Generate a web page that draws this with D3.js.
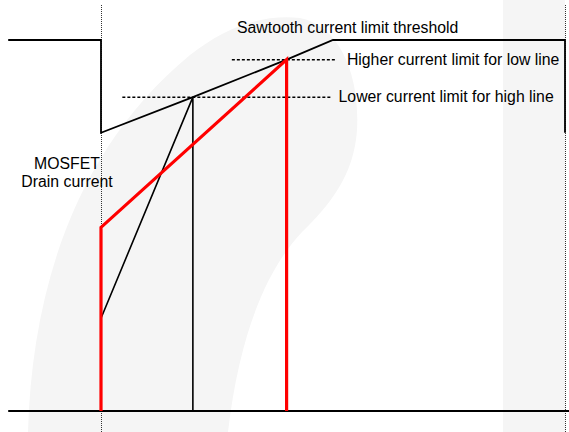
<!DOCTYPE html>
<html>
<head>
<meta charset="utf-8">
<script src="https://cdn.jsdelivr.net/npm/d3@7"></script>
<style>
  html, body { margin: 0; padding: 0; background: #fff; }
  svg { display: block; }
  text { font-family: "Liberation Sans", Arial, sans-serif; fill: #000; }
</style>
</head>
<body>
<div id="chart"></div>
<script>
// ---- Data (time in arbitrary units, current normalised to the clamp level) ----
const sawtoothThreshold = [
  { t: -1.0, i: 1.0 }, { t: 0.0, i: 1.0 }, { t: 0.0, i: 0.75 },
  { t: 0.99, i: 0.846 }, { t: 2.0, i: 0.947 }, { t: 2.5, i: 1.0 },
  { t: 5.0, i: 1.0 }, { t: 5.0, i: 0.75 }
];
const highLineCurrent = [
  { t: 0.0, i: 0.25 }, { t: 0.99, i: 0.846 }, { t: 0.99, i: 0.0 }
];
const lowLineCurrent = [
  { t: 0.0, i: 0.0 }, { t: 0.0, i: 0.495 }, { t: 2.0, i: 0.947 }, { t: 2.0, i: 0.0 }
];
const baseline = [ { t: -1.0, i: 0.0 }, { t: 5.05, i: 0.0 } ];
const markerTimes = [0.0, 5.0];
const limitLevels = [
  { name: "Higher current limit for low line", i: 0.947, t0: 1.41, t1: 2.54, labelT: 2.65 },
  { name: "Lower current limit for high line", i: 0.846, t0: 0.23, t1: 2.49, labelT: 2.56 }
];
const thresholdLabel = { name: "Sawtooth current limit threshold", t: 1.466, i: 1.02 };
const axisLabelLines = ["MOSFET", "Drain current"];

// ---- Layout ----
const W = 569, H = 432;
const x = d3.scaleLinear().domain([0, 5]).range([101, 565]);
const y = d3.scaleLinear().domain([0, 1]).range([411, 40]);

const svg = d3.select("#chart").append("svg")
  .attr("width", W).attr("height", H);

// faint background watermark
const bg = svg.append("g").attr("fill", "#f5f5f5");
bg.append("path")
  .attr("d", "M28,432 C32,290 75,150 190,55 C225,28 260,14 300,18 C340,26 360,75 357,130 C354,175 330,205 302,232 C268,268 240,330 228,432 Z");
bg.append("rect").attr("x", 503).attr("y", 0).attr("width", 62).attr("height", H);

const line = d3.line().x(d => x(d.t)).y(d => y(d.i));

// dotted vertical markers
svg.selectAll(".marker").data(markerTimes).enter().append("line")
  .attr("class", "marker")
  .attr("x1", d => Math.round(x(d)) + 0.5).attr("x2", d => Math.round(x(d)) + 0.5)
  .attr("y1", 5).attr("y2", H)
  .attr("stroke", "#333").attr("stroke-width", 1)
  .attr("stroke-dasharray", "1,1");

// dashed limit levels
svg.selectAll(".limit").data(limitLevels).enter().append("line")
  .attr("class", "limit")
  .attr("x1", d => x(d.t0)).attr("x2", d => x(d.t1))
  .attr("y1", d => y(d.i)).attr("y2", d => y(d.i))
  .attr("stroke", "#000").attr("stroke-width", 1.5)
  .attr("stroke-dasharray", "3,2");

// baseline
svg.append("path").datum(baseline).attr("d", line)
  .attr("fill", "none").attr("stroke", "#000").attr("stroke-width", 2.2);

// sawtooth threshold
svg.append("path").datum(sawtoothThreshold).attr("d", line)
  .attr("fill", "none").attr("stroke", "#000").attr("stroke-width", 1.8)
  .attr("stroke-linejoin", "miter");

// high-line drain current (black)
svg.append("path").datum(highLineCurrent).attr("d", line)
  .attr("fill", "none").attr("stroke", "#000").attr("stroke-width", 1.6);

// low-line drain current (red)
svg.append("path").datum(lowLineCurrent).attr("d", line)
  .attr("fill", "none").attr("stroke", "#ff0000").attr("stroke-width", 3.2)
  .attr("stroke-linejoin", "miter");

// labels
const fs = 15.8;
svg.append("text").attr("x", x(thresholdLabel.t)).attr("y", 33)
  .attr("font-size", fs).text(thresholdLabel.name);
svg.selectAll(".lvl").data(limitLevels).enter().append("text")
  .attr("class", "lvl")
  .attr("x", d => x(d.labelT)).attr("y", d => y(d.i) + 5)
  .attr("font-size", fs).text(d => d.name);
svg.append("text").attr("x", 67).attr("y", 169).attr("text-anchor", "middle")
  .attr("font-size", fs)
  .selectAll("tspan").data(axisLabelLines).enter().append("tspan")
  .attr("x", 67).attr("dy", (d, k) => k === 0 ? 0 : 18).text(d => d);
</script>
</body>
</html>
